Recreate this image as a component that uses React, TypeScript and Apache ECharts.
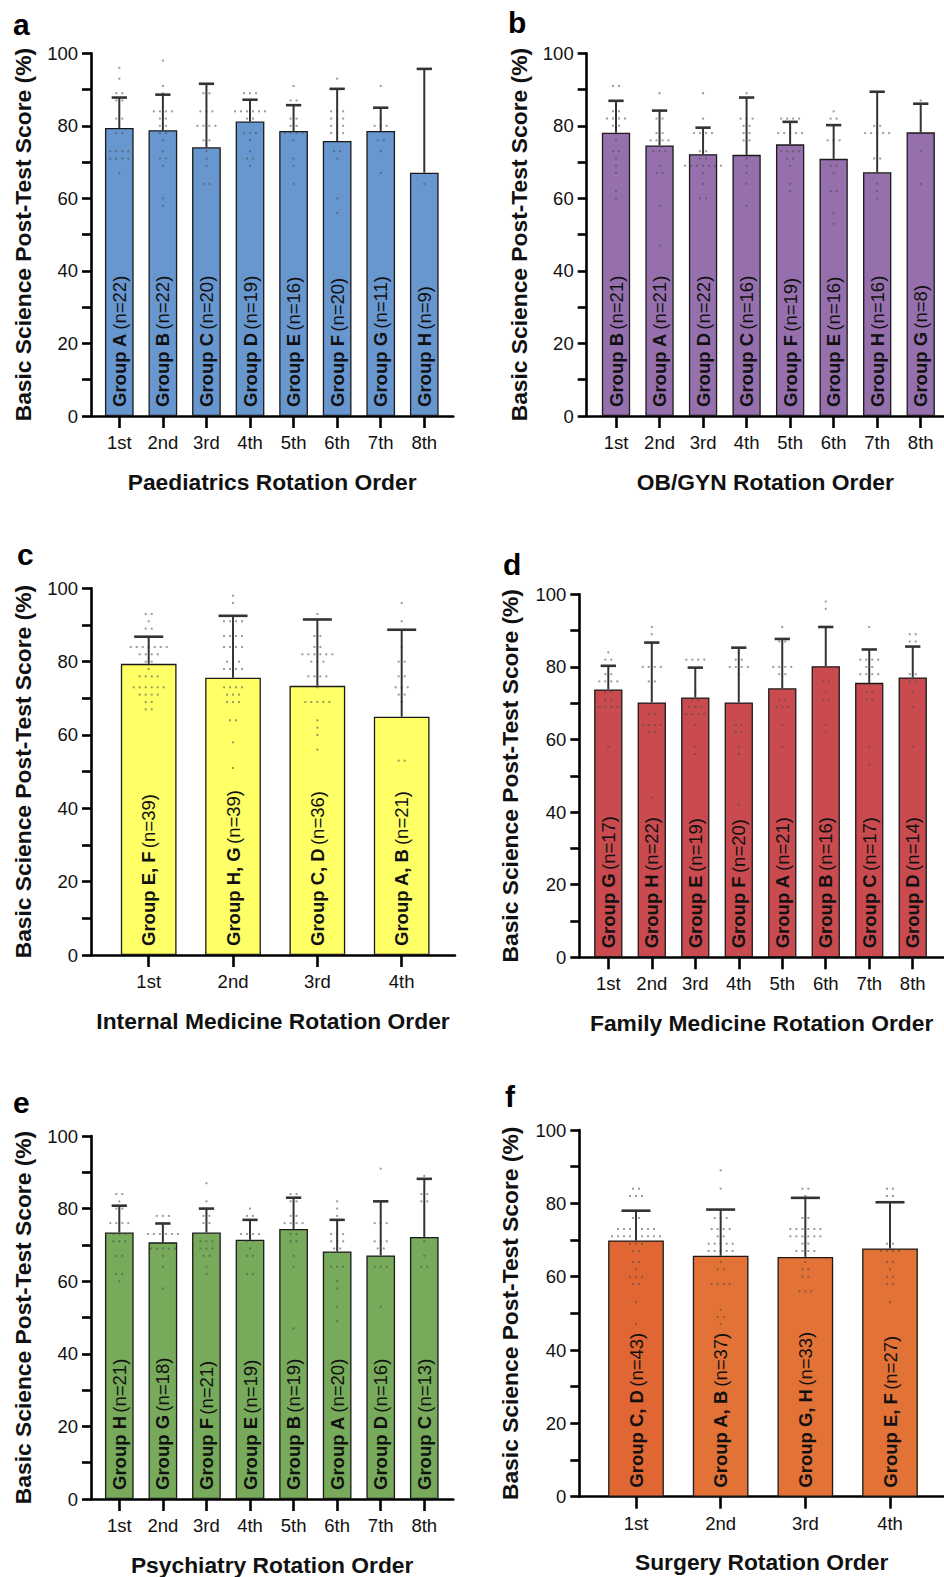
import React, { useEffect, useRef } from 'react';
import * as echarts from 'echarts';

const FONT = '"Liberation Sans", Arial, Helvetica, sans-serif';
const ordinals = ['1st', '2nd', '3rd', '4th', '5th', '6th', '7th', '8th'];
const yTitle = 'Basic Science Post-Test Score (%)';

// ---------- a: Paediatrics ----------
const paedTitle = 'Paediatrics Rotation Order';
const paedGroups = ['A', 'B', 'C', 'D', 'E', 'F', 'G', 'H'];
const paedN = [22, 22, 20, 19, 16, 20, 11, 9];
const paedMean = [79.4, 78.8, 74.1, 81.2, 78.6, 75.8, 78.6, 67.1];
const paedUpper = [87.8, 88.6, 91.6, 87.2, 85.7, 90.2, 85.0, 95.7];
const paedDots = [
  [96, 93, 89, 89, 87, 87, 82, 82, 78, 78, 73, 73, 73, 73, 71, 71, 71, 71, 67],
  [98, 91, 89, 84, 84, 84, 84, 82, 82, 80, 80, 78, 78, 76, 73, 71, 71, 69, 60, 58],
  [89, 89, 84, 84, 84, 80, 80, 80, 80, 76, 76, 73, 71, 69, 64, 64],
  [89, 89, 89, 84, 84, 84, 84, 84, 84, 82, 82, 78, 78, 78, 76, 73, 71, 71, 69],
  [91, 87, 87, 82, 82, 80, 80, 78, 78, 78, 78, 76, 71, 69, 64],
  [93, 84, 84, 84, 82, 82, 82, 80, 80, 80, 78, 78, 78, 73, 73, 71, 60, 56],
  [91, 82, 80, 80, 80, 76, 76, 73, 67],
  [64],
];
const paedColors = ['#6897d0'];

// ---------- b: OB/GYN ----------
const obTitle = 'OB/GYN Rotation Order';
const obGroups = ['B', 'A', 'D', 'C', 'F', 'E', 'H', 'G'];
const obN = [21, 21, 22, 16, 19, 16, 16, 8];
const obMean = [78.1, 74.6, 72.2, 72.0, 74.9, 70.9, 67.2, 78.2];
const obUpper = [86.9, 84.2, 79.5, 87.8, 81.1, 80.2, 89.4, 86.1];
const obDots = [
  [91, 91, 84, 84, 82, 82, 82, 82, 80, 80, 76, 73, 73, 71, 69, 67, 62, 60],
  [89, 82, 82, 78, 78, 76, 76, 76, 76, 73, 73, 73, 69, 67, 67, 58, 47],
  [89, 82, 78, 78, 78, 78, 73, 73, 71, 71, 69, 69, 69, 69, 69, 69, 69, 67, 64, 60, 60],
  [89, 82, 82, 82, 80, 80, 78, 78, 76, 76, 71, 69, 67, 64, 58],
  [82, 82, 82, 82, 78, 78, 78, 78, 78, 73, 73, 73, 73, 71, 71, 69, 64, 62],
  [84, 82, 82, 76, 76, 76, 69, 69, 67, 62, 62, 56, 53],
  [80, 80, 78, 78, 78, 78, 78, 71, 71, 64, 62, 60],
  [87, 73, 64],
];
const obColors = ['#9670ad'];

// ---------- c: Internal Medicine ----------
const imTitle = 'Internal Medicine Rotation Order';
const imGroups = ['E, F', 'H, G', 'C, D', 'A, B'];
const imN = [39, 39, 36, 21];
const imMean = [79.4, 75.6, 73.4, 65.0];
const imUpper = [86.8, 92.5, 91.5, 88.7];
const imDots = [
  [93, 93, 91, 89, 89, 84, 84, 84, 84, 84, 84, 84, 82, 82, 82, 82, 80, 80, 78, 76, 76, 76, 76, 73, 73, 73, 73, 73, 73, 71, 71, 71, 71, 69, 69, 67, 67],
  [98, 96, 91, 91, 91, 91, 87, 87, 87, 87, 84, 84, 84, 84, 82, 80, 80, 80, 78, 78, 78, 78, 73, 73, 73, 73, 71, 71, 71, 69, 69, 69, 64, 64, 58, 51],
  [93, 87, 87, 84, 84, 82, 82, 82, 82, 82, 82, 80, 80, 80, 76, 76, 76, 76, 73, 69, 69, 69, 69, 69, 64, 62, 60, 56],
  [96, 91, 84, 80, 80, 76, 76, 73, 73, 73, 71, 71, 69, 53, 53],
];
const imColors = ['#ffff66'];

// ---------- d: Family Medicine ----------
const fmTitle = 'Family Medicine Rotation Order';
const fmGroups = ['G', 'H', 'E', 'F', 'A', 'B', 'C', 'D'];
const fmN = [17, 22, 19, 20, 21, 16, 17, 14];
const fmMean = [73.8, 70.2, 71.6, 70.2, 74.1, 80.2, 75.6, 77.1];
const fmUpper = [80.3, 86.7, 79.8, 85.3, 87.7, 91.0, 84.8, 85.6];
const fmDots = [
  [84, 82, 82, 78, 78, 76, 76, 76, 76, 73, 73, 71, 71, 69, 69, 69, 69, 58],
  [91, 89, 80, 80, 80, 80, 76, 76, 67, 67, 64, 64, 64, 64, 62, 62, 44],
  [82, 82, 82, 82, 73, 71, 71, 69, 69, 69, 67, 67, 67, 67, 64, 58, 56],
  [84, 82, 82, 80, 80, 80, 80, 78, 64, 64, 62, 62, 58, 56, 42],
  [91, 87, 87, 80, 80, 80, 80, 78, 78, 71, 71, 69, 69, 69, 64, 58],
  [98, 96, 76, 76, 73, 71, 71, 64, 62],
  [91, 82, 82, 82, 82, 80, 80, 78, 78, 78, 78, 73, 73, 71, 71, 58, 53],
  [89, 89, 87, 87, 78, 78, 76, 76, 73, 69, 58],
];
const fmColors = ['#c94b4f'];

// ---------- e: Psychiatry ----------
const psyTitle = 'Psychiatry Rotation Order';
const psyGroups = ['H', 'G', 'F', 'E', 'B', 'A', 'D', 'C'];
const psyN = [21, 18, 21, 19, 19, 20, 16, 13];
const psyMean = [73.4, 70.7, 73.4, 71.4, 74.4, 68.2, 67.1, 72.2];
const psyUpper = [80.8, 75.9, 80.0, 76.9, 83.0, 76.9, 82.0, 88.2];
const psyDots = [
  [84, 84, 82, 80, 80, 76, 76, 76, 76, 73, 73, 73, 71, 71, 71, 67, 67, 62, 62, 60],
  [78, 78, 78, 73, 73, 73, 73, 73, 73, 69, 69, 69, 69, 69, 67, 64, 58],
  [87, 82, 78, 78, 76, 76, 71, 71, 71, 69, 69, 69, 67, 67, 64, 62],
  [80, 78, 78, 73, 73, 73, 73, 71, 71, 69, 67, 67, 62, 62],
  [84, 84, 82, 82, 78, 78, 76, 76, 76, 76, 73, 73, 71, 71, 67, 64, 47],
  [82, 80, 78, 73, 73, 73, 71, 71, 71, 69, 69, 64, 64, 64, 60, 58, 53, 49],
  [91, 76, 76, 76, 71, 71, 71, 69, 69, 64, 64, 64, 53],
  [89, 84, 84, 82, 82, 71, 67, 64, 64],
];
const psyColors = ['#77aa5a'];

// ---------- f: Surgery ----------
const surTitle = 'Surgery Rotation Order';
const surGroups = ['C, D', 'A, B', 'G, H', 'E, F'];
const surN = [43, 37, 33, 27];
const surMean = [69.9, 65.7, 65.4, 67.7];
const surUpper = [78.0, 78.3, 81.5, 80.3];
const surDots = [
  [84, 84, 82, 82, 82, 76, 76, 73, 73, 73, 73, 73, 73, 73, 71, 71, 71, 71, 71, 71, 71, 71, 71, 69, 69, 69, 67, 67, 64, 64, 62, 60, 60, 60, 58, 58, 53, 47],
  [89, 84, 76, 76, 76, 73, 73, 73, 73, 71, 71, 69, 69, 69, 69, 69, 67, 67, 67, 67, 67, 64, 62, 62, 58, 58, 58, 58, 51, 49, 49, 47],
  [84, 84, 82, 76, 76, 73, 73, 73, 73, 73, 73, 71, 71, 71, 71, 71, 71, 69, 69, 67, 67, 67, 67, 64, 62, 62, 60, 60, 56, 56, 56],
  [84, 84, 82, 82, 78, 73, 69, 69, 67, 67, 67, 67, 64, 64, 62, 60, 60, 58, 58, 53],
];
const surColors = ['#e06633', '#e37237', '#e37237', '#e37237'];

const datasets = [
  { title: paedTitle, groups: paedGroups, n: paedN, mean: paedMean, upper: paedUpper, dots: paedDots, colors: paedColors },
  { title: obTitle, groups: obGroups, n: obN, mean: obMean, upper: obUpper, dots: obDots, colors: obColors },
  { title: imTitle, groups: imGroups, n: imN, mean: imMean, upper: imUpper, dots: imDots, colors: imColors },
  { title: fmTitle, groups: fmGroups, n: fmN, mean: fmMean, upper: fmUpper, dots: fmDots, colors: fmColors },
  { title: psyTitle, groups: psyGroups, n: psyN, mean: psyMean, upper: psyUpper, dots: psyDots, colors: psyColors },
  { title: surTitle, groups: surGroups, n: surN, mean: surMean, upper: surUpper, dots: surDots, colors: surColors },
];

// layout (pixel geometry of each panel)
const layouts = [
  { axisX: 91, axisR: 453.3, top: 53.3, bottom: 416, c0: 119.3, step: 43.57, barW: 28.7, cap: 15.3, yNameGap: 57, letter: 'a', lx: 13, ly: 24.6 },
  { axisX: 586.7, axisR: 944, top: 53.3, bottom: 416, c0: 616, step: 43.53, barW: 28.3, cap: 15.3, yNameGap: 56, letter: 'b', lx: 508, ly: 22.6 },
  { axisX: 91, axisR: 455, top: 588.3, bottom: 955, c0: 148.7, step: 84.33, barW: 55.7, cap: 29, yNameGap: 57, letter: 'c', lx: 17, ly: 554.6 },
  { axisX: 579.3, axisR: 944, top: 594.3, bottom: 957.3, c0: 608.3, step: 43.49, barW: 28.3, cap: 15.3, yNameGap: 58, letter: 'd', lx: 503, ly: 564.6 },
  { axisX: 91, axisR: 453.3, top: 1136, bottom: 1499.3, c0: 119.3, step: 43.57, barW: 28.7, cap: 15.3, yNameGap: 57, letter: 'e', lx: 13, ly: 1102.6 },
  { axisX: 579.3, axisR: 944, top: 1130, bottom: 1496.7, c0: 636, step: 84.67, barW: 55.7, cap: 29, yNameGap: 58, letter: 'f', lx: 505, ly: 1096.6 },
];

const DOT_SPACING = 6;
const TITLE_SIZE = 22.8;

function buildOption() {
  const grid: any[] = [];
  const xAxis: any[] = [];
  const yAxis: any[] = [];
  const series: any[] = [];
  const graphic: any[] = [];

  datasets.forEach((d, k) => {
    const L = layouts[k];
    const count = d.mean.length;
    const idx = Array.from({ length: count }, (_, i) => i);
    grid.push({ left: L.axisX, top: L.top, width: L.axisR - L.axisX, height: L.bottom - L.top, containLabel: false });
    xAxis.push({
      gridIndex: k,
      type: 'value',
      min: -(L.c0 - L.axisX) / L.step,
      max: (L.axisR - L.c0) / L.step,
      splitLine: { show: false },
      axisLine: { show: true, onZero: false, lineStyle: { color: '#000', width: 2.6 } },
      axisTick: { show: true, customValues: idx, length: 12, lineStyle: { color: '#000', width: 2.6 } },
      axisLabel: {
        customValues: idx,
        formatter: (v: number) => ordinals[Math.round(v)] ?? '',
        margin: 17,
        fontSize: 18.5,
        color: '#111',
        fontFamily: FONT,
      },
      name: d.title,
      nameLocation: 'middle',
      nameGap: 54,
      nameTextStyle: { fontSize: TITLE_SIZE, fontWeight: 'bold', color: '#111', fontFamily: FONT },
    });
    yAxis.push({
      gridIndex: k,
      type: 'value',
      min: 0,
      max: 100,
      interval: 10,
      splitLine: { show: false },
      axisLine: { show: true, onZero: false, lineStyle: { color: '#000', width: 2.6 } },
      axisTick: { show: true, length: 9, lineStyle: { color: '#000', width: 2.6 } },
      axisLabel: {
        formatter: (v: number) => (v % 20 === 0 ? String(v) : ''),
        margin: 13,
        fontSize: 18.5,
        color: '#111',
        fontFamily: FONT,
      },
      name: yTitle,
      nameLocation: 'middle',
      nameGap: L.yNameGap,
      nameTextStyle: { fontSize: TITLE_SIZE, fontWeight: 'bold', color: '#111', fontFamily: FONT },
    });

    series.push({
      type: 'bar',
      xAxisIndex: k,
      yAxisIndex: k,
      barWidth: L.barW,
      z: 2,
      data: d.mean.map((m, i) => ({
        value: [i, m],
        itemStyle: { color: d.colors[i] ?? d.colors[0], borderColor: '#1a1a1a', borderWidth: 1.3 },
      })),
      label: {
        show: true,
        position: 'insideBottom',
        distance: 9,
        rotate: 90,
        align: 'left',
        verticalAlign: 'middle',
        formatter: (p: any) => `{g|Group ${d.groups[p.dataIndex]}} {n|(n=${d.n[p.dataIndex]})}`,
        rich: {
          g: { fontSize: 18.5, fontWeight: 'bold', color: '#111', fontFamily: FONT },
          n: { fontSize: 18.5, color: '#111', fontFamily: FONT },
        },
      },
    });

    const dotData: number[][] = [];
    d.dots.forEach((vals, i) => {
      const counts = new Map<number, number>();
      vals.forEach((v) => counts.set(v, (counts.get(v) || 0) + 1));
      counts.forEach((c, v) => {
        for (let j = 0; j < c; j++) {
          const off = ((j - (c - 1) / 2) * DOT_SPACING) / L.step;
          dotData.push([i + off, v]);
        }
      });
    });
    series.push({
      type: 'scatter',
      xAxisIndex: k,
      yAxisIndex: k,
      symbol: 'rect',
      symbolSize: 2,
      z: 3,
      itemStyle: { color: '#4a4a4a', opacity: 0.55 },
      data: dotData,
    });

    series.push({
      type: 'custom',
      xAxisIndex: k,
      yAxisIndex: k,
      z: 4,
      encode: { x: 0, y: [1, 2] },
      data: d.mean.map((m, i) => [i, m, d.upper[i]]),
      renderItem: (params: any, api: any) => {
        const x = api.value(0);
        const p0 = api.coord([x, api.value(1)]);
        const p1 = api.coord([x, api.value(2)]);
        return {
          type: 'group',
          children: [
            { type: 'line', shape: { x1: p0[0], y1: p0[1], x2: p1[0], y2: p1[1] }, style: { stroke: '#333', lineWidth: 2 } },
            { type: 'line', shape: { x1: p1[0] - L.cap / 2, y1: p1[1], x2: p1[0] + L.cap / 2, y2: p1[1] }, style: { stroke: '#333', lineWidth: 2.6 } },
          ],
        };
      },
    });

    graphic.push({
      type: 'text',
      x: L.lx,
      y: L.ly,
      style: { text: L.letter, fontSize: 30, fontWeight: 'bold', fontFamily: FONT, fill: '#000', verticalAlign: 'middle', align: 'left' },
    });
  });

  return { animation: false, backgroundColor: '#fff', grid, xAxis, yAxis, series, graphic };
}

export default function App() {
  const ref = useRef<HTMLDivElement>(null);
  useEffect(() => {
    const chart = echarts.init(ref.current!, null, { renderer: 'svg' });
    chart.setOption(buildOption() as any);
    return () => chart.dispose();
  }, []);
  return <div ref={ref} style={{ position: 'absolute', left: 0, top: 0, width: 944, height: 1577, background: '#fff' }} />;
}
